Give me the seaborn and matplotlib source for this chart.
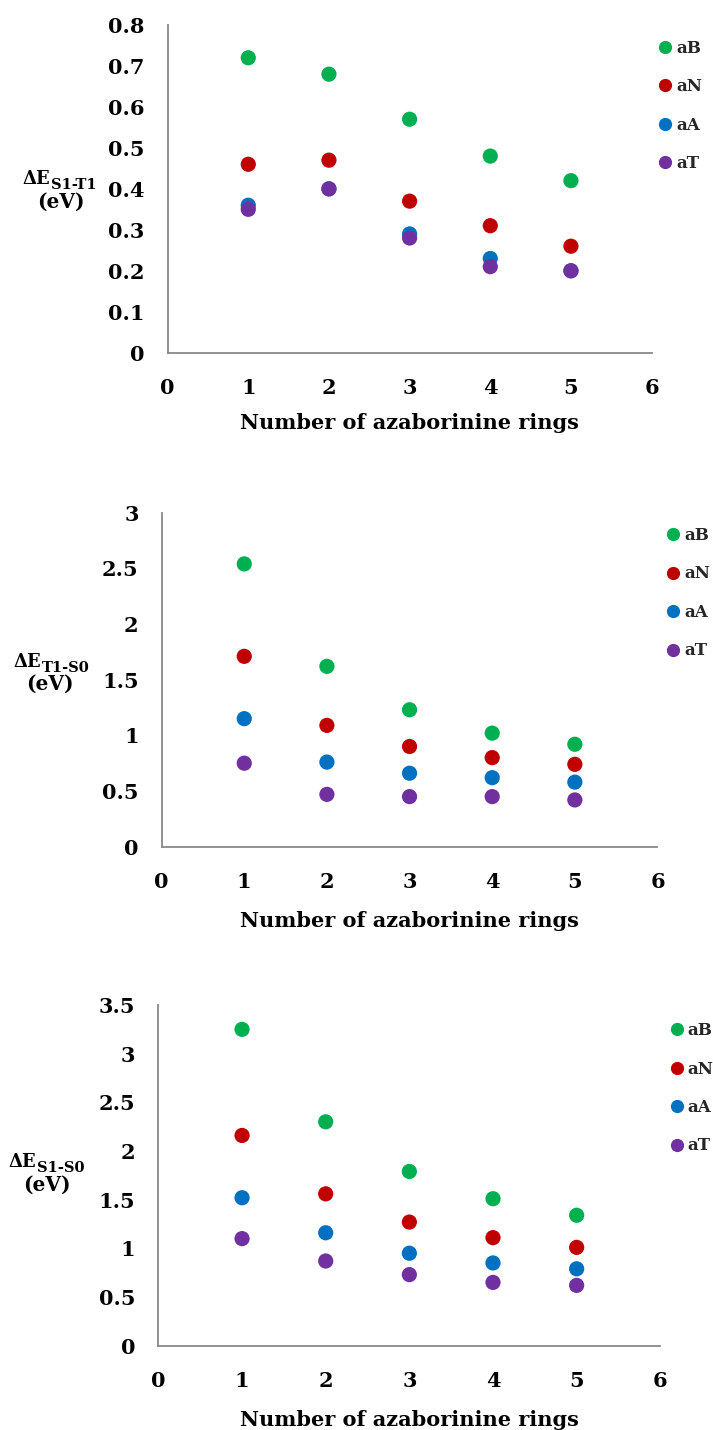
import numpy as np
import pandas as pd
import matplotlib
matplotlib.use("Agg")
import matplotlib.pyplot as plt
import seaborn as sns

# ---------------- data ----------------
rings = [1, 2, 3, 4, 5]
series_names = ["aB", "aN", "aA", "aT"]
series_colors = ["#00B050", "#C00000", "#0070C0", "#7030A0"]

# singlet-triplet gap (S1-T1), eV
aB_s1t1 = [0.72, 0.68, 0.57, 0.48, 0.42]
aN_s1t1 = [0.46, 0.47, 0.37, 0.31, 0.26]
aA_s1t1 = [0.36, 0.40, 0.29, 0.23, 0.20]
aT_s1t1 = [0.35, 0.40, 0.28, 0.21, 0.20]

# triplet-ground gap (T1-S0), eV
aB_t1s0 = [2.54, 1.62, 1.23, 1.02, 0.92]
aN_t1s0 = [1.71, 1.09, 0.90, 0.80, 0.74]
aA_t1s0 = [1.15, 0.76, 0.66, 0.62, 0.58]
aT_t1s0 = [0.75, 0.47, 0.45, 0.45, 0.42]

# singlet-ground gap (S1-S0), eV
aB_s1s0 = [3.25, 2.30, 1.79, 1.51, 1.34]
aN_s1s0 = [2.16, 1.56, 1.27, 1.11, 1.01]
aA_s1s0 = [1.52, 1.16, 0.95, 0.85, 0.79]
aT_s1s0 = [1.10, 0.87, 0.73, 0.65, 0.62]

x_ticks = [0, 1, 2, 3, 4, 5, 6]
x_ticklabels = ["0", "1", "2", "3", "4", "5", "6"]

y_ticks_s1t1 = [0, 0.1, 0.2, 0.3, 0.4, 0.5, 0.6, 0.7, 0.8]
y_ticklabels_s1t1 = ["0", "0.1", "0.2", "0.3", "0.4", "0.5", "0.6", "0.7", "0.8"]
y_ticks_t1s0 = [0, 0.5, 1, 1.5, 2, 2.5, 3]
y_ticklabels_t1s0 = ["0", "0.5", "1", "1.5", "2", "2.5", "3"]
y_ticks_s1s0 = [0, 0.5, 1, 1.5, 2, 2.5, 3, 3.5]
y_ticklabels_s1s0 = ["0", "0.5", "1", "1.5", "2", "2.5", "3", "3.5"]

subscripts = ["S1-T1", "T1-S0", "S1-S0"]
x_title = "Number of azaborinine rings"

# ---------------- style ----------------
sns.set_theme(style="white")
plt.rcParams["font.family"] = ["DejaVu Serif", "DejaVu Sans"]
plt.rcParams["font.weight"] = "bold"

W, H = 713, 1430
fig = plt.figure(figsize=(W / 100, H / 100), dpi=100)
fig.patch.set_facecolor("white")


def rect(l, r, t, b):
    return [l / W, 1 - b / H, (r - l) / W, (b - t) / H]


def fxy(x, y):
    return x / W, 1 - y / H


panels = [
    dict(rect=rect(167.6, 651.6, 25, 352.7), top=25, bottom=352.7,
         values=[aB_s1t1, aN_s1t1, aA_s1t1, aT_s1t1],
         yticks=y_ticks_s1t1, ylabels=y_ticklabels_s1t1,
         sub=subscripts[0], delta=(22.7, 183.5), ev=(60.5, 201.5),
         xlab_gap=60.5, leg=(658.3, 39.6)),
    dict(rect=rect(161.6, 657.5, 512.7, 846.7), top=512.7, bottom=846.7,
         values=[aB_t1s0, aN_t1s0, aA_t1s0, aT_t1s0],
         yticks=y_ticks_t1s0, ylabels=y_ticklabels_t1s0,
         sub=subscripts[1], delta=(13.3, 666.7), ev=(50, 684),
         xlab_gap=64, leg=(666.8, 527)),
    dict(rect=rect(158.4, 660.3, 1005, 1345.7), top=1005, bottom=1345.7,
         values=[aB_s1s0, aN_s1s0, aA_s1s0, aT_s1s0],
         yticks=y_ticks_s1s0, ylabels=y_ticklabels_s1s0,
         sub=subscripts[2], delta=(8.3, 1167), ev=(46.7, 1185),
         xlab_gap=64, leg=(670, 1022)),
]

palette = dict(zip(series_names, series_colors))
axis_grey = "#898989"

for p in panels:
    frames = []
    for name, vals in zip(series_names, p["values"]):
        frames.append(pd.DataFrame({"rings": rings, "gap": vals, "series": name}))
    df = pd.concat(frames, ignore_index=True)

    ax = fig.add_axes(p["rect"])
    sns.scatterplot(data=df, x="rings", y="gap", hue="series",
                    hue_order=series_names, palette=palette,
                    s=120, edgecolor="none", linewidth=0, ax=ax, zorder=3)

    ax.set_xlim(0, 6)
    ax.set_ylim(p["yticks"][0], p["yticks"][-1])
    ax.set_xticks(x_ticks)
    ax.set_xticklabels(x_ticklabels)
    ax.set_yticks(p["yticks"])
    ax.set_yticklabels(p["ylabels"])
    ax.tick_params(axis="both", length=0, labelsize=15, colors="black")
    ax.tick_params(axis="x", pad=18.5)
    ax.tick_params(axis="y", pad=16.5)
    for lab in ax.get_xticklabels() + ax.get_yticklabels():
        lab.set_fontweight("bold")

    for side in ["top", "right"]:
        ax.spines[side].set_visible(False)
    for side in ["left", "bottom"]:
        ax.spines[side].set_color(axis_grey)
        ax.spines[side].set_linewidth(1.3)
    ax.set_facecolor("white")
    ax.grid(False)

    ax.set_ylabel("")
    ax.set_xlabel(x_title, fontsize=15, fontweight="bold", color="black")
    ax_h = p["bottom"] - p["top"]
    ax.xaxis.set_label_coords(0.5, -p["xlab_gap"] / ax_h)

    # y-axis title: ΔE with a subscript attached to its right edge, unit below
    delta_txt = fig.text(*fxy(*p["delta"]), "ΔE", fontsize=13, fontweight="bold",
                         ha="left", va="baseline", color="black")
    ax.annotate(p["sub"], xy=(1, 0), xycoords=delta_txt,
                xytext=(0.5, -3.0), textcoords="offset points",
                ha="left", va="bottom", fontsize=10.5, fontweight="bold",
                color="black", annotation_clip=False)
    fig.text(*fxy(*p["ev"]), "(eV)", fontsize=14.5, fontweight="bold",
             ha="center", va="center", color="black")

    handles, labels = ax.get_legend_handles_labels()
    ax.legend(handles, labels, loc="upper left",
              bbox_to_anchor=fxy(*p["leg"]), bbox_transform=fig.transFigure,
              frameon=False, borderpad=0, borderaxespad=0,
              handlelength=0.8, handletextpad=0.26, labelspacing=1.29,
              markerscale=0.87,
              prop=dict(family="DejaVu Serif", weight="bold", size=12))

fig.savefig("out.png", dpi=100, facecolor="white")
